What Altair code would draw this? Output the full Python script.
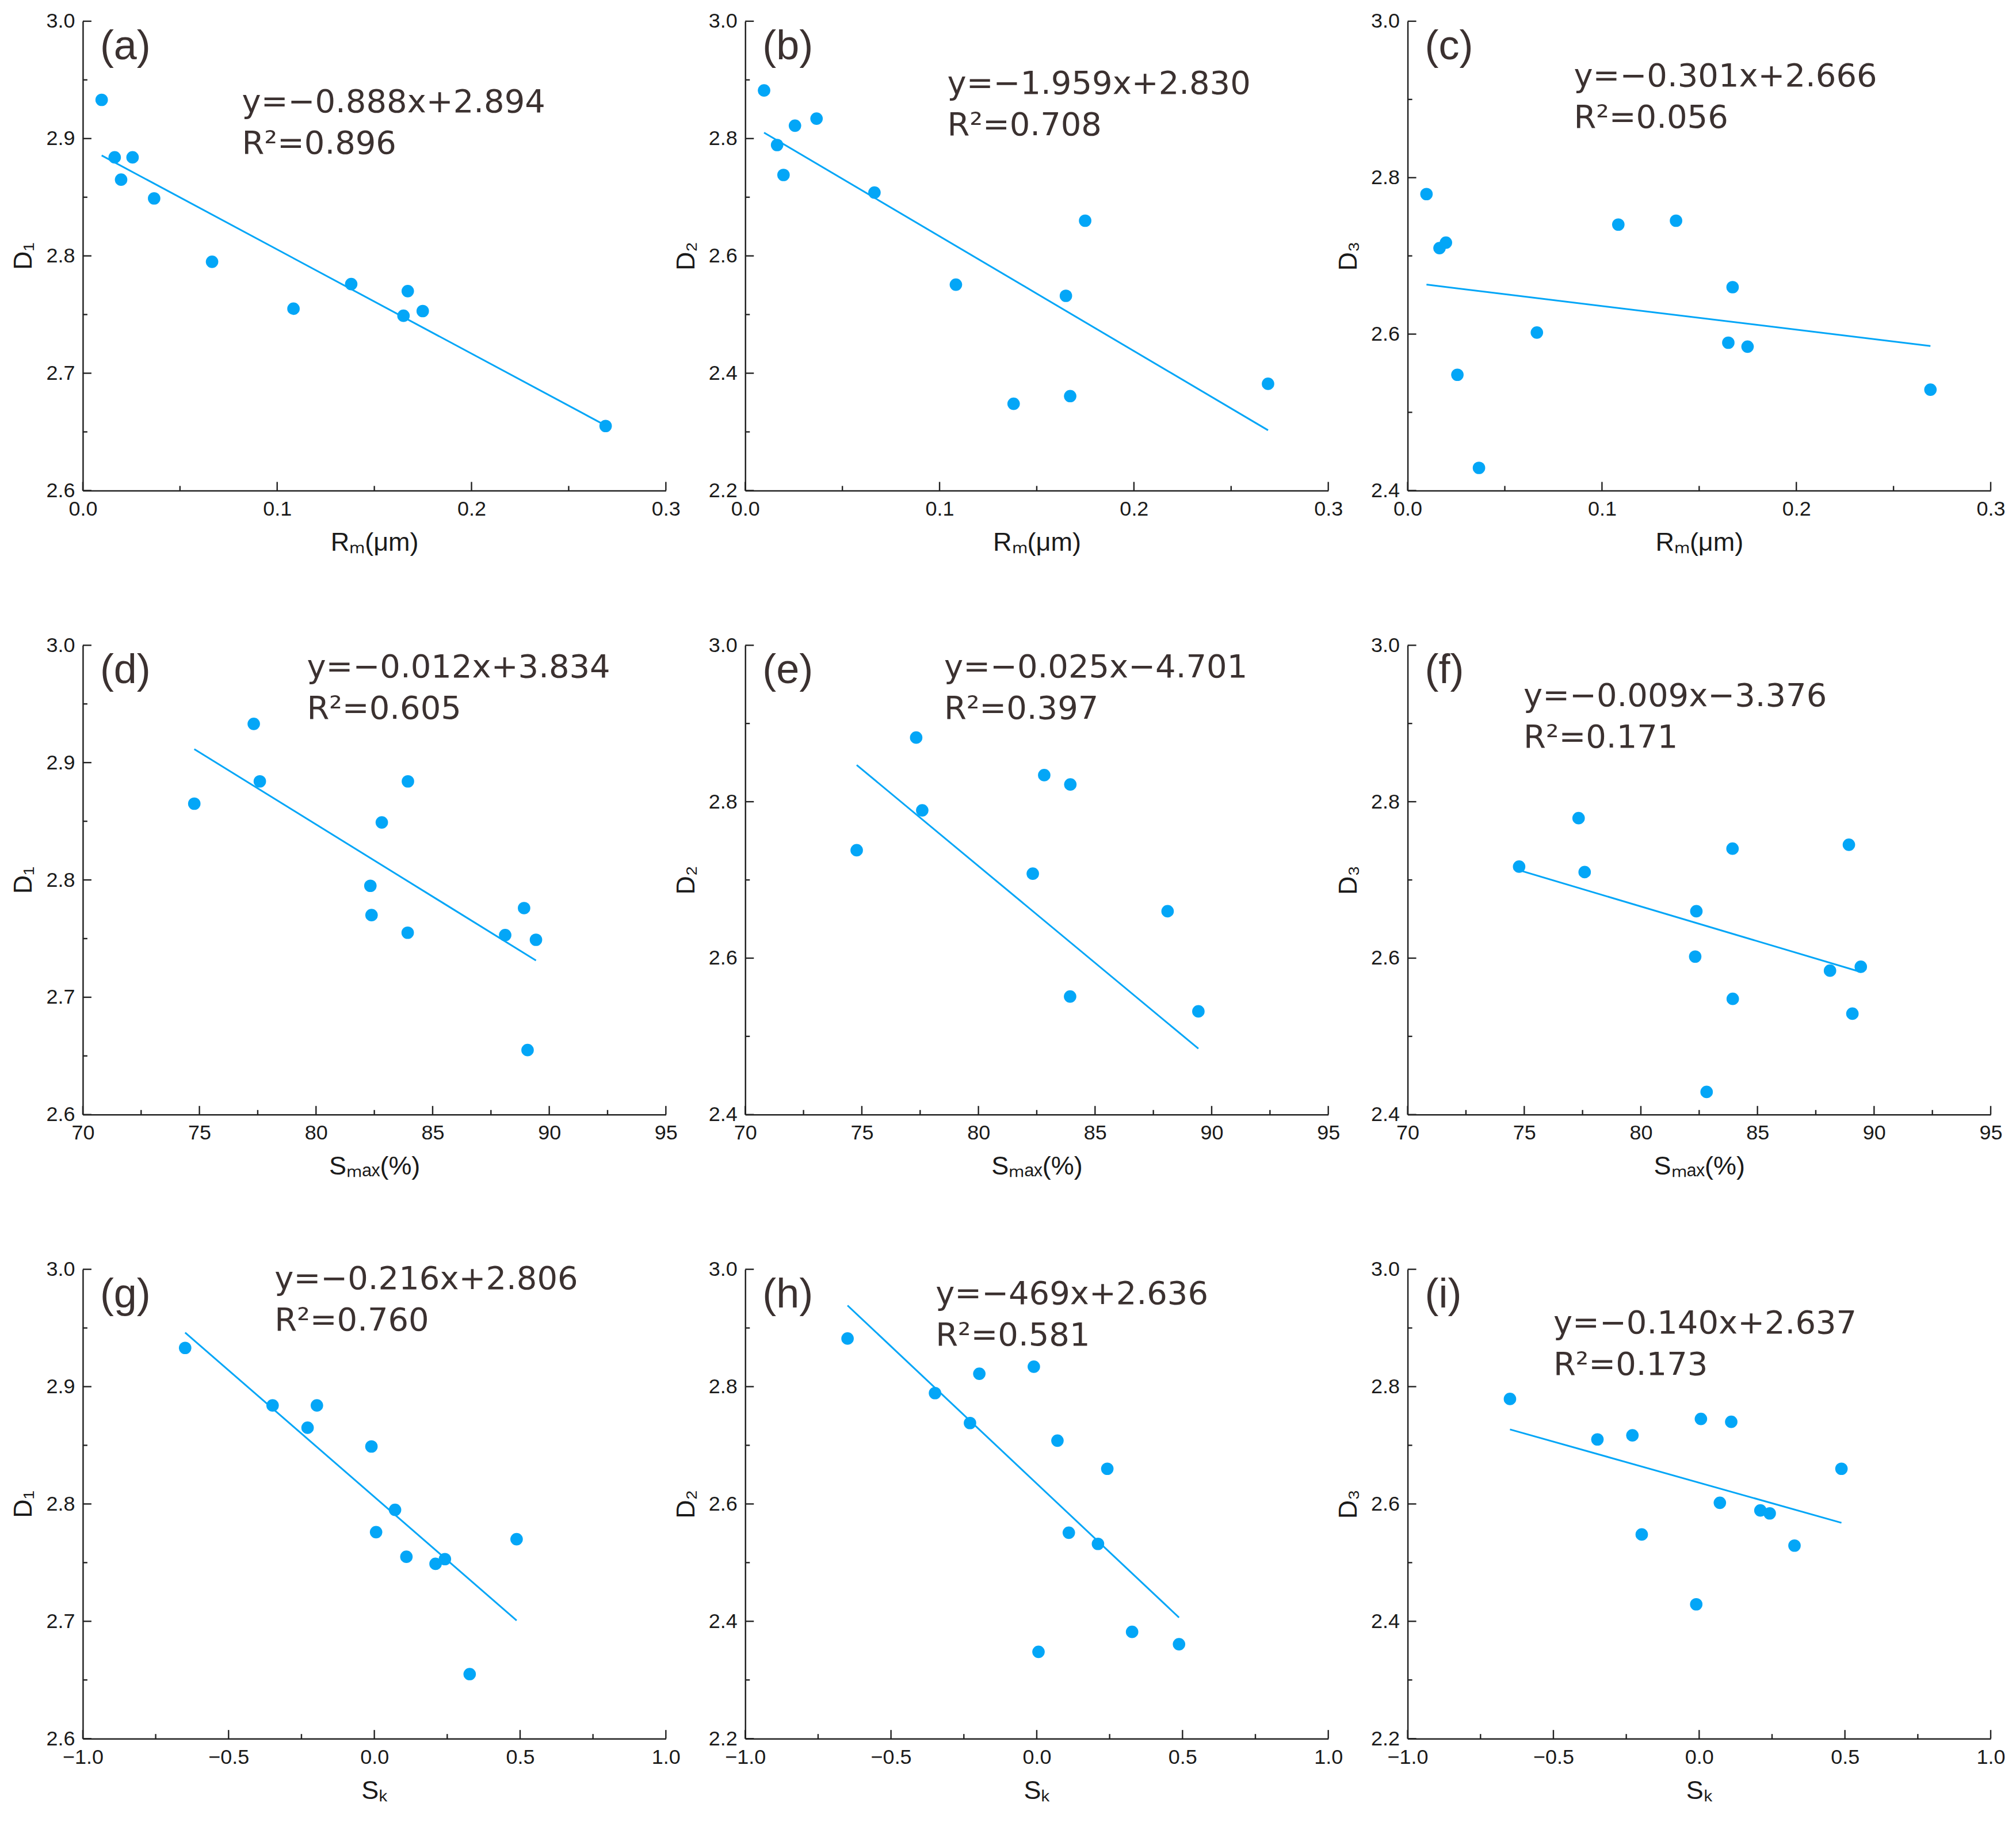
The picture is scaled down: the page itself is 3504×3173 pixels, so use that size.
import altair as alt
import pandas as pd

# values (12 samples)
RM = [0.0097, 0.0164, 0.0197, 0.0256, 0.0367, 0.0665, 0.1084, 0.1381, 0.1650, 0.1672, 0.1749, 0.2690]
SMAX = [77.33, 77.59, 74.78, 83.94, 82.82, 82.33, 83.93, 88.92, 89.43, 82.38, 88.11, 89.07]
SK = [-0.649, -0.349, -0.229, -0.197, -0.010, 0.071, 0.110, 0.006, 0.210, 0.488, 0.242, 0.327]
D1 = [2.933, 2.884, 2.865, 2.884, 2.849, 2.795, 2.755, 2.776, 2.749, 2.770, 2.753, 2.655]
D2 = [2.882, 2.789, 2.738, 2.822, 2.834, 2.708, 2.551, 2.348, 2.532, 2.361, 2.660, 2.382]
D3 = [2.779, 2.710, 2.717, 2.548, 2.429, 2.602, 2.740, 2.745, 2.589, 2.660, 2.584, 2.529]

# axis ticks
RM_TICKS = [0.0, 0.1, 0.2, 0.3]
RM_MINOR = [0.05, 0.15, 0.25]
SMAX_TICKS = [70, 75, 80, 85, 90, 95]
SMAX_MINOR = [72.5, 77.5, 82.5, 87.5, 92.5]
SK_TICKS = [-1.0, -0.5, 0.0, 0.5, 1.0]
SK_MINOR = [-0.75, -0.25, 0.25, 0.75]
Y26_TICKS = [2.6, 2.7, 2.8, 2.9, 3.0]
Y26_MINOR = [2.65, 2.75, 2.85, 2.95]
Y24_TICKS = [2.4, 2.6, 2.8, 3.0]
Y24_MINOR = [2.5, 2.7, 2.9]
Y22_TICKS = [2.2, 2.4, 2.6, 2.8, 3.0]
Y22_MINOR = [2.3, 2.5, 2.7, 2.9]

# annotation text
TAGS = ['(a)', '(b)', '(c)', '(d)', '(e)', '(f)', '(g)', '(h)', '(i)']
EQUATIONS = ['y=−0.888x+2.894', 'y=−1.959x+2.830', 'y=−0.301x+2.666',
             'y=−0.012x+3.834', 'y=−0.025x−4.701', 'y=−0.009x−3.376',
             'y=−0.216x+2.806', 'y=−469x+2.636', 'y=−0.140x+2.637']
R2 = ['0.896', '0.708', '0.056', '0.605', '0.397', '0.171', '0.760', '0.581', '0.173']

BLUE = '#03A6F7'
AXIS_COLOR = '#222222'
W, H = 1014, 816

samples = pd.DataFrame({'Rm': RM, 'Smax': SMAX, 'Sk': SK, 'D1': D1, 'D2': D2, 'D3': D3})

X_SETUP = {
    'Rm': dict(domain=[0, 0.3], major=RM_TICKS, minor=RM_MINOR, fmt='.1f', title='Rₘ(μm)'),
    'Smax': dict(domain=[70, 95], major=SMAX_TICKS, minor=SMAX_MINOR, fmt='d', title='Sₘₐₓ(%)'),
    'Sk': dict(domain=[-1, 1], major=SK_TICKS, minor=SK_MINOR, fmt='.1f', title='Sₖ'),
}
Y_SETUP = {
    2.6: dict(major=Y26_TICKS, minor=Y26_MINOR),
    2.4: dict(major=Y24_TICKS, minor=Y24_MINOR),
    2.2: dict(major=Y22_TICKS, minor=Y22_MINOR),
}
Y_TITLES = {'D1': 'D₁', 'D2': 'D₂', 'D3': 'D₃'}


def panel(i, xcol, ycol, ymin, eq_x, eq_y):
    xs = X_SETUP[xcol]
    yt = Y_SETUP[ymin]
    xscale = alt.Scale(domain=xs['domain'], nice=False, zero=False)
    yscale = alt.Scale(domain=[ymin, 3.0], nice=False, zero=False)
    base = alt.Chart(samples)

    points = base.mark_circle(size=470, color=BLUE, opacity=1, clip=True).encode(
        x=alt.X(f'{xcol}:Q', scale=xscale,
                axis=alt.Axis(values=xs['major'], format=xs['fmt'], title=xs['title'],
                              ticks=False, tickSize=0, labelPadding=15, titlePadding=18)),
        y=alt.Y(f'{ycol}:Q', scale=yscale,
                axis=alt.Axis(values=yt['major'], format='.1f', title=Y_TITLES[ycol],
                              ticks=False, tickSize=0, labelPadding=14, titlePadding=16))
    )

    fit = base.transform_regression(xcol, ycol).mark_line(
        color=BLUE, strokeWidth=3, clip=True
    ).encode(
        x=alt.X(f'{xcol}:Q', scale=xscale, axis=None),
        y=alt.Y(f'{ycol}:Q', scale=yscale, axis=None)
    )

    # ticks pointing into the plot, placed through the panel's scales
    def x_ticks(vals, size):
        return alt.Chart(pd.DataFrame({'v': vals})).mark_rule(
            color=AXIS_COLOR, strokeWidth=2.4
        ).encode(
            x=alt.X('v:Q', scale=xscale, axis=None),
            y=alt.value(H), y2=alt.value(H - size)
        )

    def y_ticks(vals, size):
        return alt.Chart(pd.DataFrame({'v': vals})).mark_rule(
            color=AXIS_COLOR, strokeWidth=2.4
        ).encode(
            y=alt.Y('v:Q', scale=yscale, axis=None),
            x=alt.value(0), x2=alt.value(size)
        )

    tag = alt.Chart(pd.DataFrame({'t': [TAGS[i]]})).mark_text(
        align='left', baseline='alphabetic', font='Liberation Sans', fontSize=72,
        color='#3b3130'
    ).encode(x=alt.value(30), y=alt.value(66), text='t:N')

    eq = alt.Chart(pd.DataFrame({'x': [eq_x], 'y': [eq_y],
                                 't': [EQUATIONS[i] + '\nR²=' + R2[i]]})).mark_text(
        align='left', baseline='alphabetic', font='DejaVu Sans', fontSize=56,
        lineBreak='\n', lineHeight=72, color='#3b3130'
    ).encode(
        x=alt.X('x:Q', scale=xscale, axis=None),
        y=alt.Y('y:Q', scale=yscale, axis=None),
        text='t:N'
    )

    return alt.layer(
        points, fit,
        x_ticks(xs['major'], 15), x_ticks(xs['minor'], 8),
        y_ticks(yt['major'], 15), y_ticks(yt['minor'], 8),
        tag, eq
    ).resolve_axis(x='independent', y='independent').properties(width=W, height=H)


panels = [
    panel(0, 'Rm', 'D1', 2.6, 0.0819, 2.9226),
    panel(1, 'Rm', 'D2', 2.2, 0.104, 2.8766),
    panel(2, 'Rm', 'D3', 2.4, 0.0855, 2.9167),
    panel(3, 'Smax', 'D1', 2.6, 79.61, 2.9725),
    panel(4, 'Smax', 'D2', 2.4, 78.53, 2.9588),
    panel(5, 'Smax', 'D3', 2.4, 74.97, 2.9222),
    panel(6, 'Sk', 'D1', 2.6, -0.342, 2.983),
    panel(7, 'Sk', 'D2', 2.2, -0.347, 2.9406),
    panel(8, 'Sk', 'D3', 2.2, -0.50, 2.8908),
]

chart = alt.concat(
    *panels, columns=3, spacing={'row': 269, 'column': 138}, bounds='flush'
).properties(
    padding={'left': 10, 'top': 10, 'right': 10, 'bottom': 10}
).configure_view(
    stroke=None
).configure_axis(
    grid=False,
    domainColor=AXIS_COLOR,
    domainWidth=2.5,
    labelFont='Liberation Sans',
    labelFontSize=36,
    labelColor='#1a1a1a',
    labelFlush=False,
    labelOverlap=False,
    titleFont='Liberation Sans',
    titleFontSize=45,
    titleFontWeight='normal',
    titleColor='#1a1a1a'
)

chart.save('out.html', embed_options={'renderer': 'svg', 'actions': False})
